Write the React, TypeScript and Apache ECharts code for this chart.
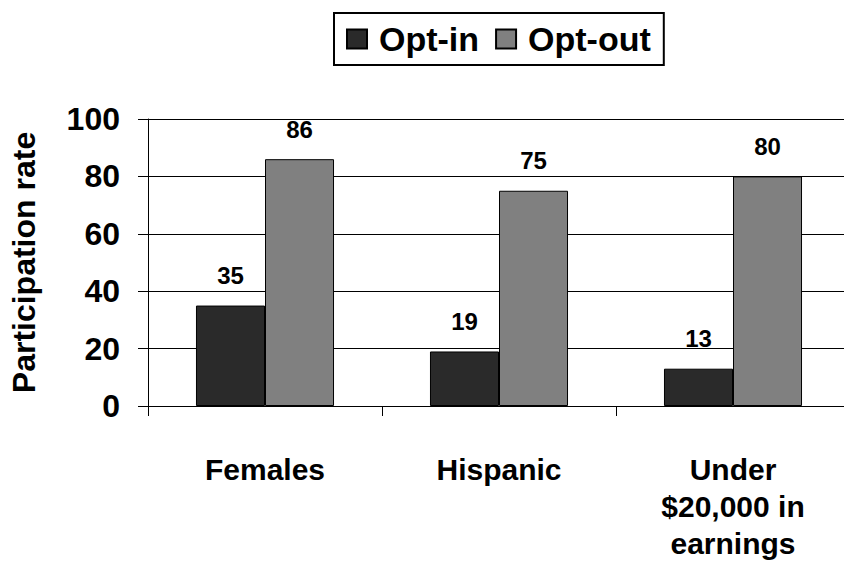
import React, { useEffect, useRef } from "react";
import * as echarts from "echarts";

const categories = ["Females", "Hispanic", "Under\n$20,000 in\nearnings"];
const optIn = [35, 19, 13];
const optOut = [86, 75, 80];
const seriesNames = ["Opt-in", "Opt-out"];

const FONT = '"Liberation Sans", Arial, sans-serif';

export default function App() {
  const ref = useRef<HTMLDivElement>(null);

  useEffect(() => {
    if (!ref.current) return;
    const chart = echarts.init(ref.current, undefined, { renderer: "svg" });
    const labelStyle = {
      show: true,
      position: "top" as const,
      distance: 18,
      fontFamily: FONT,
      fontWeight: "bold" as const,
      fontSize: 24,
      color: "#000",
    };
    chart.setOption({
      animation: false,
      backgroundColor: "#fff",
      textStyle: { fontFamily: FONT },
      legend: {
        left: 334,
        top: 13,
        padding: [9, 13, 9, 12],
        borderColor: "#000",
        borderWidth: 2,
        itemWidth: 20,
        itemHeight: 19,
        itemGap: 16,
        icon: "rect",
        data: seriesNames,
        textStyle: {
          fontFamily: FONT,
          fontWeight: "bold",
          fontSize: 34,
          color: "#000",
          padding: [0, 0, 0, 7],
          lineHeight: 34,
        },
      },
      grid: {
        left: 148,
        right: 0,
        top: 119,
        bottom: 156,
        outerBoundsMode: "none",
        containLabel: false,
      },
      xAxis: {
        type: "category",
        data: categories,
        axisLine: { show: true, lineStyle: { color: "#000", width: 1 } },
        axisTick: { show: true, length: 10, lineStyle: { color: "#000" } },
        axisLabel: {
          fontFamily: FONT,
          fontWeight: "bold",
          fontSize: 30,
          lineHeight: 37,
          color: "#000",
          margin: 45,
          interval: 0,
        },
      },
      yAxis: {
        type: "value",
        min: 0,
        max: 100,
        interval: 20,
        name: "Participation rate",
        nameLocation: "middle",
        nameGap: 108,
        nameTextStyle: {
          fontFamily: FONT,
          fontWeight: "bold",
          fontSize: 32,
          color: "#000",
        },
        axisLine: { show: true, lineStyle: { color: "#000", width: 1 } },
        axisTick: { show: true, length: 10, lineStyle: { color: "#000" } },
        axisLabel: {
          fontFamily: FONT,
          fontWeight: "bold",
          fontSize: 32,
          color: "#000",
          margin: 28,
        },
        splitLine: { show: true, lineStyle: { color: "#000", width: 1 } },
      },
      series: [
        {
          name: seriesNames[0],
          type: "bar",
          data: optIn,
          barGap: "0%",
          barCategoryGap: "41%",
          itemStyle: { color: "#2a2a2a", borderColor: "#000", borderWidth: 1 },
          label: labelStyle,
        },
        {
          name: seriesNames[1],
          type: "bar",
          data: optOut,
          barGap: "0%",
          barCategoryGap: "41%",
          itemStyle: { color: "#808080", borderColor: "#000", borderWidth: 1 },
          label: labelStyle,
        },
      ],
    });
    return () => chart.dispose();
  }, []);

  return (
    <div
      style={{
        position: "absolute",
        left: 0,
        top: 0,
        width: 844,
        height: 562,
        overflow: "hidden",
        background: "#fff",
      }}
    >
      <div ref={ref} style={{ width: 850, height: 562 }} />
    </div>
  );
}
